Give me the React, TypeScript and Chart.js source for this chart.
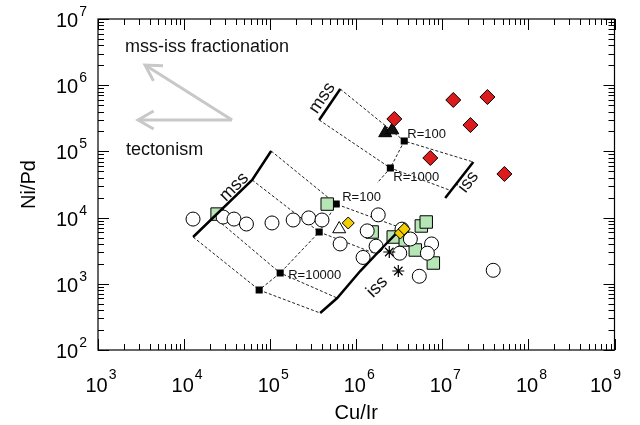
import React, { useEffect, useRef } from 'react';
import { Chart, registerables } from 'chart.js';

Chart.register(...registerables);

type P = [number, number];

// Axis decades (log10 exponents)
const xDecades = [3, 4, 5, 6, 7, 8, 9];
const yDecades = [2, 3, 4, 5, 6, 7];

// Sample data (Cu/Ir, Ni/Pd)
const whiteCircles: P[] = [
  [1.27e4, 9.5e3], [2.84e4, 1.02e4], [3.8e4, 9.5e3], [5.3e4, 8.0e3],
  [1.05e5, 8.3e3], [1.85e5, 9.2e3], [2.8e5, 9.9e3], [4.0e5, 9.2e3],
  [6.5e5, 4.0e3], [1.8e6, 1.1e4], [1.34e6, 6.3e3], [1.7e6, 3.7e3],
  [1.2e6, 2.5e3], [3.4e6, 6.7e3], [4.25e6, 4.75e3], [3.2e6, 2.9e3],
  [7.5e6, 4.0e3], [6.7e6, 2.9e3], [5.4e6, 1.3e3], [3.9e7, 1.6e3],
];
const greenSquares: P[] = [
  [2.42e4, 1.13e4], [4.6e5, 1.6e4], [1.53e6, 6.06e3], [2.69e6, 5.09e3],
  [3.71e6, 4.59e3], [4.85e6, 3.24e3], [7.86e6, 2.06e3], [5.7e6, 7.47e3],
  [6.5e6, 8.58e3],
];
const yellowDiamonds: P[] = [[8.07e5, 8.29e3], [3.25e6, 5.85e3], [3.61e6, 6.73e3]];
const redDiamonds: P[] = [
  [2.77e6, 3.09e5], [1.34e7, 5.98e5], [3.34e7, 6.63e5], [2.12e7, 2.5e5],
  [7.25e6, 7.95e4], [5.26e7, 4.56e4],
];
const blackTriangles: P[] = [[2.17e6, 1.9e5], [2.62e6, 2.1e5]];
const whiteTriangles: P[] = [[6.34e5, 6.73e3]];
const asterisks: P[] = [[2.42e6, 3.02e3], [3.08e6, 1.56e3]];

// Model curves (upper set)
const upperMss: P[] = [[3.71e5, 2.98e5], [6.52e5, 8.76e5]];
const upperIss: P[] = [[2.29e7, 6.92e4], [1.08e7, 1.98e4]];
const upperTie1: P[] = [[6.52e5, 8.76e5], [3.61e6, 1.435e5], [2.29e7, 6.92e4]];
const upperTie2: P[] = [[3.71e5, 2.98e5], [2.49e6, 5.61e4], [1.206e7, 2.61e4]];
const upperLiquid: P[] = [[3.61e6, 1.435e5], [2.49e6, 5.61e4], [1.75e6, 3.33e4]];
const upperR: P[] = [[3.61e6, 1.435e5], [2.49e6, 5.61e4]];

// Model curves (lower set)
const lowerMss: P[] = [[1.273e4, 5.09e3], [6.18e4, 3.7e4], [1.027e5, 1.014e5]];
const lowerIss: P[] = [[3.81e5, 362], [6.01e5, 610], [1.113e6, 1.56e3], [1.9e6, 3.24e3], [3.34e6, 6.96e3]];
const lowerTie1: P[] = [[1.027e5, 1.014e5], [5.85e5, 1.6e4], [3.34e6, 6.96e3]];
const lowerTie2: P[] = [[6.18e4, 3.7e4], [3.71e5, 6.06e3], [1.71e6, 2.82e3]];
const lowerTie3: P[] = [[2.23e4, 1.02e4], [1.307e5, 1.456e3], [6.01e5, 610]];
const lowerTie4: P[] = [[1.273e4, 5.09e3], [7.45e4, 806], [3.81e5, 362]];
const lowerLiquid: P[] = [[5.85e5, 1.6e4], [3.71e5, 6.06e3], [1.307e5, 1.456e3], [7.45e4, 806]];

// Annotations
const rLabels = [
  { text: 'R=100', at: [3.61e6, 1.435e5] as P, dx: 3, dy: -7 },
  { text: 'R=1000', at: [2.49e6, 5.61e4] as P, dx: 3, dy: 9 },
  { text: 'R=100', at: [5.85e5, 1.6e4] as P, dx: 6, dy: -7 },
  { text: 'R=10000', at: [1.307e5, 1.456e3] as P, dx: 8, dy: 2 },
];
const phaseLabels = [
  { text: 'mss', at: [4.02e5, 6.41e5] as P, rot: -56 },
  { text: 'mss', at: [3.81e4, 2.9e4] as P, rot: -45 },
  { text: 'iss', at: [2.01e7, 3.45e4] as P, rot: -52 },
  { text: 'iss', at: [1.75e6, 895] as P, rot: -45 },
];
const notes = [
  { text: 'mss-iss fractionation', at: [2.06e3, 3.78e6] as P },
  { text: 'tectonism', at: [2.12e3, 1.05e5] as P },
];
const arrowTail: P = [3.61e4, 2.98e5];
const arrowTips: P[] = [[3.52e3, 2.02e6], [2.92e3, 2.98e5]];

const FONT = '"Liberation Sans", Arial, Helvetica, sans-serif';

const toPts = (a: P[]) => a.map(([x, y]) => ({ x, y }));

function lineDs(data: P[], dashed: boolean) {
  return {
    data: toPts(data),
    showLine: true,
    borderColor: dashed ? '#222' : '#000',
    borderWidth: dashed ? 1 : 2.5,
    borderDash: dashed ? [3, 2] : [],
    pointRadius: 0,
    fill: false,
    tension: 0,
    order: dashed ? 30 : 5,
  };
}

function markerDs(data: P[], style: string, radius: number, bg: string, order: number, bw = 1) {
  return {
    data: toPts(data),
    showLine: false,
    pointStyle: style,
    pointRadius: radius,
    pointBackgroundColor: bg,
    pointBorderColor: '#000',
    pointBorderWidth: bw,
    order,
  };
}

const decor = {
  id: 'decor',
  beforeDatasetsDraw(chart: any) {
    const ctx = chart.ctx;
    const xs = chart.scales.x, ys = chart.scales.y;
    const X = (v: number) => xs.getPixelForValue(v);
    const Y = (v: number) => ys.getPixelForValue(v);
    ctx.save();
    ctx.strokeStyle = '#c8c8c8';
    ctx.lineWidth = 3;
    ctx.lineCap = 'butt';
    const tx = X(arrowTail[0]), ty = Y(arrowTail[1]);
    for (const tip of arrowTips) {
      const px = X(tip[0]), py = Y(tip[1]);
      ctx.beginPath();
      ctx.moveTo(tx, ty);
      ctx.lineTo(px, py);
      ctx.stroke();
      const ang = Math.atan2(ty - py, tx - px);
      const L = 18, a = (30 * Math.PI) / 180;
      ctx.beginPath();
      ctx.moveTo(px + L * Math.cos(ang - a), py + L * Math.sin(ang - a));
      ctx.lineTo(px, py);
      ctx.lineTo(px + L * Math.cos(ang + a), py + L * Math.sin(ang + a));
      ctx.stroke();
    }
    ctx.restore();
  },
  afterDatasetsDraw(chart: any) {
    const ctx = chart.ctx;
    const xs = chart.scales.x, ys = chart.scales.y;
    const X = (v: number) => xs.getPixelForValue(v);
    const Y = (v: number) => ys.getPixelForValue(v);
    const { left, right, top, bottom } = chart.chartArea;
    ctx.save();
    ctx.fillStyle = '#000';
    // notes
    ctx.font = `18px ${FONT}`;
    ctx.textAlign = 'left';
    ctx.textBaseline = 'middle';
    ctx.fillStyle = '#111';
    for (const n of notes) ctx.fillText(n.text, X(n.at[0]), Y(n.at[1]));
    // R labels
    ctx.font = `13px ${FONT}`;
    for (const r of rLabels) ctx.fillText(r.text, X(r.at[0]) + r.dx, Y(r.at[1]) + r.dy);
    // phase labels
    ctx.font = `18px ${FONT}`;
    ctx.textAlign = 'center';
    for (const p of phaseLabels) {
      ctx.save();
      ctx.translate(X(p.at[0]), Y(p.at[1]));
      ctx.rotate((p.rot * Math.PI) / 180);
      ctx.fillText(p.text, 0, 0);
      ctx.restore();
    }
    // frame
    ctx.strokeStyle = '#000';
    ctx.lineWidth = 1.2;
    ctx.strokeRect(left, top, right - left, bottom - top);
    // ticks
    ctx.lineWidth = 1;
    ctx.beginPath();
    for (let i = 0; i < xDecades.length; i++) {
      const d = xDecades[i];
      for (let m = 1; m <= 9; m++) {
        if (i === xDecades.length - 1 && m > 1) break;
        const px = Math.round(X(m * Math.pow(10, d))) + 0.5;
        const len = m === 1 ? 11 : 6;
        ctx.moveTo(px, bottom); ctx.lineTo(px, bottom - len);
        ctx.moveTo(px, top); ctx.lineTo(px, top + len);
      }
    }
    for (let i = 0; i < yDecades.length; i++) {
      const d = yDecades[i];
      for (let m = 1; m <= 9; m++) {
        if (i === yDecades.length - 1 && m > 1) break;
        const py = Math.round(Y(m * Math.pow(10, d))) + 0.5;
        const len = m === 1 ? 11 : 6;
        ctx.moveTo(left, py); ctx.lineTo(left + len, py);
        ctx.moveTo(right, py); ctx.lineTo(right - len, py);
      }
    }
    ctx.stroke();
    // tick labels
    ctx.fillStyle = '#000';
    ctx.textBaseline = 'alphabetic';
    ctx.textAlign = 'left';
    const big = `20px ${FONT}`, small = `14px ${FONT}`;
    for (let i = 0; i < xDecades.length; i++) {
      const d = xDecades[i];
      const px = X(Math.pow(10, d)) + (i === xDecades.length - 1 ? -9 : 3);
      ctx.font = big; const wb = ctx.measureText('10').width;
      ctx.font = small; const we = ctx.measureText(String(d)).width;
      const start = px - (wb + we + 1) / 2;
      ctx.font = big; ctx.fillText('10', start, 392);
      ctx.font = small; ctx.fillText(String(d), start + wb + 1, 379);
    }
    for (const d of yDecades) {
      const py = Y(Math.pow(10, d));
      ctx.font = small; const we = ctx.measureText(String(d)).width;
      ctx.font = big; const wb = ctx.measureText('10').width;
      const endX = left - 11;
      ctx.font = small; ctx.fillText(String(d), endX - we, py - 3);
      ctx.font = big; ctx.fillText('10', endX - we - 1 - wb, py + 8);
    }
    // axis titles
    ctx.font = `20px ${FONT}`;
    ctx.textAlign = 'center';
    ctx.fillText('Cu/Ir', (left + right) / 2, 419);
    ctx.save();
    ctx.translate(35, (top + bottom) / 2);
    ctx.rotate(-Math.PI / 2);
    ctx.fillText('Ni/Pd', 0, 0);
    ctx.restore();
    ctx.restore();
  },
};

export default function App() {
  const ref = useRef<HTMLCanvasElement>(null);
  useEffect(() => {
    document.body.style.margin = '0';
    const canvas = ref.current!;
    const chart = new Chart(canvas, {
      type: 'scatter',
      data: {
        datasets: [
          lineDs(upperTie1, true), lineDs(upperTie2, true), lineDs(upperLiquid, true),
          lineDs(lowerTie1, true), lineDs(lowerTie2, true), lineDs(lowerTie3, true),
          lineDs(lowerTie4, true), lineDs(lowerLiquid, true),
          lineDs(upperMss, false), lineDs(upperIss, false),
          lineDs(lowerMss, false), lineDs(lowerIss, false),
          markerDs(upperR, 'rect', 5, '#000', 25, 0),
          markerDs(lowerLiquid, 'rect', 5, '#000', 25, 0),
          markerDs(greenSquares, 'rect', 8.8, '#b6e5b6', 8),
          markerDs(whiteCircles, 'circle', 7, '#ffffff', 7),
          markerDs(yellowDiamonds, 'rectRot', 6, '#f4cf00', 3),
          markerDs(whiteTriangles, 'triangle', 7.5, '#ffffff', 3),
          markerDs(blackTriangles, 'triangle', 7.5, '#111111', 3),
          markerDs(asterisks, 'star', 6, '#000', 3, 1.2),
          markerDs(redDiamonds, 'rectRot', 7.5, '#dc1c1c', 2),
        ] as any,
      },
      options: {
        responsive: false,
        maintainAspectRatio: false,
        animation: false,
        layout: { padding: { left: 98, top: 19, right: 25.5, bottom: 75 } },
        plugins: { legend: { display: false }, tooltip: { enabled: false } },
        elements: { point: { hoverRadius: 0 } },
        events: [],
        scales: {
          x: { type: 'logarithmic', min: 1e3, max: 1e9, display: false },
          y: { type: 'logarithmic', min: 1e2, max: 1e7, display: false },
        },
      } as any,
      plugins: [decor],
    });
    return () => chart.destroy();
  }, []);
  return <canvas ref={ref} width={640} height={425} style={{ display: 'block' }} />;
}
